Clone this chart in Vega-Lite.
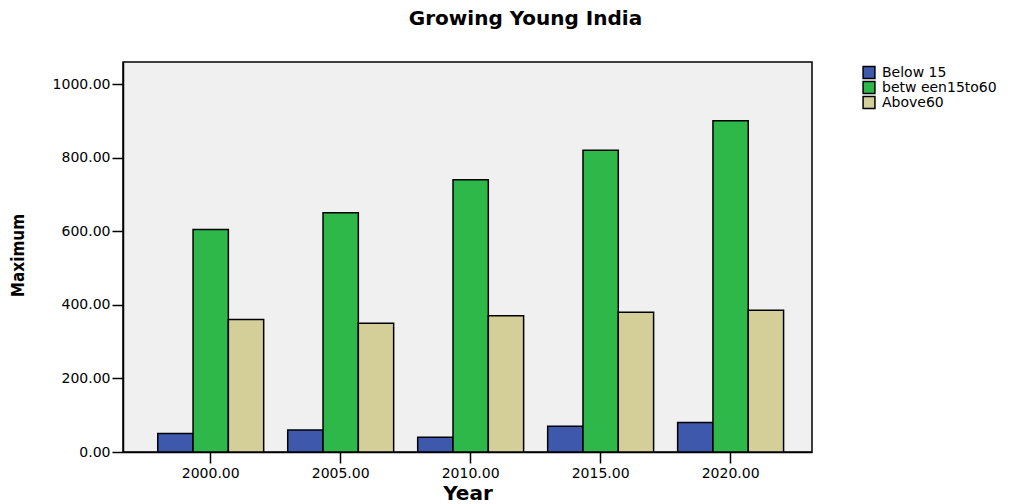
{
  "$schema": "https://vega.github.io/schema/vega-lite/v6.json",
  "width": 689,
  "height": 390,
  "autosize": {"type": "none"},
  "padding": {"left": 123, "top": 62, "right": 212, "bottom": 52},
  "background": "white",
  "title": {
    "text": "Growing Young India",
    "font": "DejaVu Sans",
    "fontSize": 20,
    "fontWeight": "bold",
    "color": "black",
    "anchor": "middle",
    "dx": 58,
    "offset": 33
  },
  "config": {
    "view": {"fill": "#f0f0f0", "stroke": "black", "strokeWidth": 1.5},
    "axis": {
      "grid": false,
      "domainColor": "black",
      "domainWidth": 1.5,
      "tickColor": "black",
      "tickWidth": 1.5,
      "tickSize": 11,
      "labelFont": "DejaVu Sans",
      "labelFontSize": 14,
      "labelColor": "black",
      "titleColor": "black"
    }
  },
  "data": {
    "values": [
      {"Year": 2000, "Group": "Below 15", "Maximum": 50},
      {"Year": 2000, "Group": "betw een15to60", "Maximum": 605},
      {"Year": 2000, "Group": "Above60", "Maximum": 360},
      {"Year": 2005, "Group": "Below 15", "Maximum": 60},
      {"Year": 2005, "Group": "betw een15to60", "Maximum": 650},
      {"Year": 2005, "Group": "Above60", "Maximum": 350},
      {"Year": 2010, "Group": "Below 15", "Maximum": 40},
      {"Year": 2010, "Group": "betw een15to60", "Maximum": 740},
      {"Year": 2010, "Group": "Above60", "Maximum": 370},
      {"Year": 2015, "Group": "Below 15", "Maximum": 70},
      {"Year": 2015, "Group": "betw een15to60", "Maximum": 820},
      {"Year": 2015, "Group": "Above60", "Maximum": 380},
      {"Year": 2020, "Group": "Below 15", "Maximum": 80},
      {"Year": 2020, "Group": "betw een15to60", "Maximum": 900},
      {"Year": 2020, "Group": "Above60", "Maximum": 385}
    ]
  },
  "mark": {"type": "bar", "stroke": "black", "strokeWidth": 1.5},
  "encoding": {
    "x": {
      "field": "Year",
      "type": "ordinal",
      "scale": {"paddingInner": 0.185, "paddingOuter": 0.243, "align": 0.55},
      "axis": {
        "labelExpr": "format(datum.value, '.2f')",
        "labelAngle": 0,
        "labelPadding": 3,
        "title": "Year",
        "titleFont": "DejaVu Sans",
        "titleFontSize": 20,
        "titleFontWeight": "bold",
        "titleY": 41,
        "titleBaseline": "middle"
      }
    },
    "xOffset": {
      "field": "Group",
      "sort": ["Below 15", "betw een15to60", "Above60"],
      "scale": {"paddingInner": 0, "paddingOuter": 0}
    },
    "y": {
      "field": "Maximum",
      "type": "quantitative",
      "scale": {"domain": [0, 1060], "nice": false},
      "axis": {
        "values": [0, 200, 400, 600, 800, 1000],
        "format": ".2f",
        "labelPadding": 2,
        "title": "Maximum",
        "titleFont": "Liberation Sans Narrow, DejaVu Sans Condensed, DejaVu Sans",
        "titleFontSize": 17,
        "titleFontWeight": "bold",
        "titleX": -105,
        "titleY": 193,
        "titleAngle": -90,
        "titleAlign": "center",
        "titleBaseline": "middle"
      }
    },
    "color": {
      "field": "Group",
      "type": "nominal",
      "scale": {
        "domain": ["Below 15", "betw een15to60", "Above60"],
        "range": ["#3e58ac", "#2fb84a", "#d4cf98"]
      },
      "legend": {
        "title": null,
        "orient": "none",
        "legendX": 739,
        "legendY": 3,
        "symbolType": "square",
        "symbolSize": 140,
        "symbolStrokeColor": "black",
        "symbolStrokeWidth": 1.5,
        "symbolOpacity": 1,
        "labelFont": "DejaVu Sans",
        "labelFontSize": 14,
        "labelColor": "black",
        "rowPadding": 0,
        "clipHeight": 15,
        "labelOffset": 6
      }
    }
  }
}
